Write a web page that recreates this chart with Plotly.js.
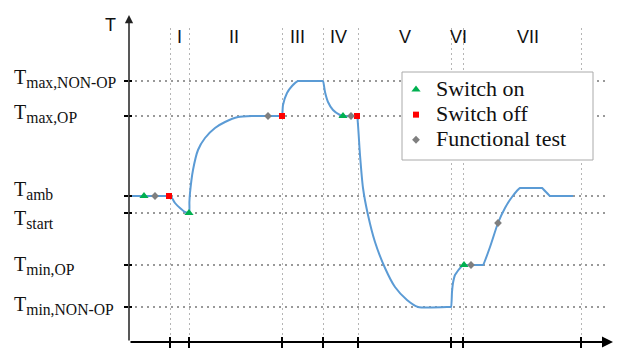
<!DOCTYPE html>
<html>
<head>
<meta charset="utf-8">
<script src="https://cdn.plot.ly/plotly-3.0.1.min.js"></script>
<style>html,body{margin:0;padding:0;background:#fff;}#chart{width:626px;height:352px;}</style>
</head>
<body>
<div id="chart"></div>
<script>
// ---- data ----
const phaseNames = ['I', 'II', 'III', 'IV', 'V', 'VI', 'VII'];
const phaseBounds = [41, 60, 153, 194, 229, 322, 334, 452];

const levelMain = ['max,NON-OP', 'max,OP', 'amb', 'start', 'min,OP', 'min,NON-OP'];
const levelValues = [261, 226, 146, 129, 77, 35];

const curveTime = [1, 40, 41, 43, 46, 51, 56, 60, 60.4, 61, 64, 69, 76, 86, 96, 109, 123, 139, 152, 153,
  154, 158, 163, 169, 170, 193, 194, 196, 199, 204, 211, 214, 222, 227, 228,
  229, 231, 234, 239, 246, 256, 266, 278, 289, 321, 322,
  323, 324, 326, 328, 333, 335, 342, 353, 354, 361, 369, 376, 383, 391, 392, 412, 413, 421, 422, 444];
const curveTemp = [146, 146, 146, 144, 139, 134, 130, 129, 140, 149, 172, 192, 204, 214, 220, 225, 226, 226, 226, 226,
  237, 249, 256, 261, 261, 261, 261, 250, 240, 232, 227, 226, 226, 226, 226,
  217, 187, 154, 127, 100, 74, 55, 42, 35, 35, 35,
  50, 59, 67, 70, 76, 77, 77, 77, 77, 95, 119, 134, 145, 154, 154, 154, 154, 146, 146, 146];

const switchOnTime = [15, 60, 214, 335];
const switchOnTemp = [146, 129, 226, 77];
const switchOffTime = [40, 153, 228];
const switchOffTemp = [146, 226, 226];
const testTime = [26, 139, 222, 342, 369];
const testTemp = [146, 226, 226, 77, 119];

const legendNames = ['Switch on', 'Switch off', 'Functional test'];

// ---- layout helpers ----
const X_MAX = 476, Y_MAX = 314;
const serif = '"Liberation Serif", "Times New Roman", serif';
const sans = '"Liberation Sans", Arial, sans-serif';
const big = s => '<span style="font-size:22px">' + s + '</span>';
const px2x = p => (p - 129) / X_MAX;
const py2y = p => (342 - p) / Y_MAX;

const traces = [
  {x: curveTime, y: curveTemp, mode: 'lines', line: {color: '#5B9BD5', width: 2, shape: 'spline', smoothing: 0.6},
   showlegend: false, hoverinfo: 'skip'},
  {x: switchOnTime, y: switchOnTemp, mode: 'markers', name: big(legendNames[0]),
   marker: {symbol: 'triangle-up', size: 8, color: '#00B050'}},
  {x: switchOffTime, y: switchOffTemp, mode: 'markers', name: big(legendNames[1]),
   marker: {symbol: 'square', size: 6, color: '#FF0000'}},
  {x: testTime, y: testTemp, mode: 'markers', name: big(legendNames[2]),
   marker: {symbol: 'diamond', size: 6, color: '#7F7F7F'}},
  {x: [null], y: [null], xaxis: 'x2', yaxis: 'y', showlegend: false, hoverinfo: 'skip'},
  {x: [null], y: [null], xaxis: 'x', yaxis: 'y2', showlegend: false, hoverinfo: 'skip'}
];

const annotations = [];
// axis arrows
annotations.push({xref: 'paper', yref: 'paper', x: 0, y: py2y(15), ax: 0, ay: 327,
  axref: 'pixel', ayref: 'pixel', text: '', showarrow: true, arrowhead: 2, arrowsize: 1.1, arrowwidth: 1.5, arrowcolor: '#222'});
annotations.push({xref: 'paper', yref: 'paper', x: px2x(613), y: 0, ax: -484, ay: 0,
  axref: 'pixel', ayref: 'pixel', text: '', showarrow: true, arrowhead: 2, arrowsize: 1.1, arrowwidth: 2, arrowcolor: '#000'});
// axis name
annotations.push({xref: 'paper', yref: 'paper', x: px2x(110.5), y: py2y(25),
  text: 'T', showarrow: false, font: {family: sans, size: 18, color: '#111'}, xanchor: 'center', yanchor: 'middle'});
// phase numerals
const phaseShift = [0, -2, -5, -2, 0, 1, 6];
phaseNames.forEach((n, i) => {
  annotations.push({xref: 'x', yref: 'paper', x: (phaseBounds[i] + phaseBounds[i + 1]) / 2, y: py2y(37),
    xshift: phaseShift[i], text: n, showarrow: false, font: {family: sans, size: 18, color: '#111'},
    xanchor: 'center', yanchor: 'middle'});
});
// level labels
const levelShift = [3, 3, 6, -6, 0, 2];
levelMain.forEach((n, i) => {
  annotations.push({xref: 'paper', yref: 'y', x: px2x(12), y: levelValues[i], yshift: levelShift[i],
    text: 'T<sub><span style="font-size:112%">' + n + '</span></sub>', showarrow: false,
    font: {family: serif, size: 20, color: '#111'}, xanchor: 'left', yanchor: 'middle'});
});

const layout = {
  width: 626, height: 352,
  margin: {l: 129, r: 21, t: 28, b: 10, pad: 0},
  paper_bgcolor: '#fff', plot_bgcolor: '#fff',
  font: {family: serif},
  hovermode: false,
  xaxis: {range: [0, X_MAX], tickmode: 'array', tickvals: phaseBounds, showticklabels: false,
    ticks: 'outside', ticklen: 5, tickwidth: 2, tickcolor: '#000',
    showgrid: true, gridcolor: '#b5b5b5', gridwidth: 1, griddash: '2px,3px',
    zeroline: false, showline: false, fixedrange: true},
  xaxis2: {overlaying: 'x', anchor: 'y', side: 'bottom', range: [0, X_MAX], tickmode: 'array', tickvals: phaseBounds,
    showticklabels: false, ticks: 'inside', ticklen: 5, tickwidth: 2, tickcolor: '#000',
    showgrid: false, zeroline: false, showline: false},
  yaxis: {range: [0, Y_MAX], tickmode: 'array', tickvals: levelValues, showticklabels: false,
    ticks: 'outside', ticklen: 4, tickwidth: 2, tickcolor: '#000',
    showgrid: true, gridcolor: '#999', gridwidth: 1.6, griddash: '2px,4px',
    zeroline: false, showline: false, fixedrange: true},
  yaxis2: {overlaying: 'y', anchor: 'x', side: 'left', range: [0, Y_MAX], tickmode: 'array', tickvals: levelValues,
    showticklabels: false, ticks: 'inside', ticklen: 3, tickwidth: 2, tickcolor: '#000',
    showgrid: false, zeroline: false, showline: false},
  shapes: [
    {type: 'rect', xref: 'paper', yref: 'paper', x0: px2x(402), x1: px2x(593), y0: py2y(160), y1: py2y(72),
     fillcolor: '#fff', line: {color: '#aaa', width: 1}, layer: 'above'}
  ],
  legend: {x: px2x(396), y: py2y(72), xanchor: 'left', yanchor: 'top',
    bgcolor: 'rgba(0,0,0,0)', borderwidth: 0, tracegroupgap: 0,
    font: {family: serif, size: 17, color: '#111'}},
  annotations: annotations,
  showlegend: true
};

Plotly.newPlot('chart', traces, layout, {displayModeBar: false, staticPlot: true});
</script>
</body>
</html>
